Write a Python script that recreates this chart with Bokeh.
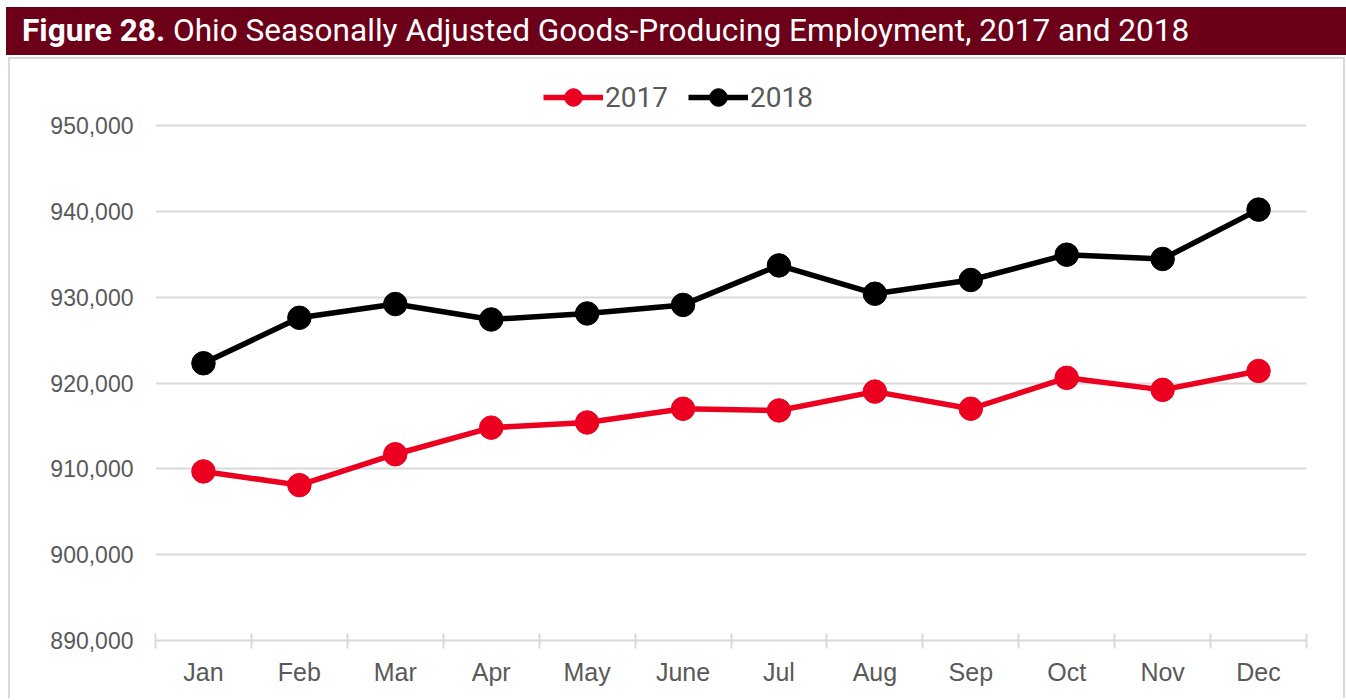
from bokeh.plotting import figure
from bokeh.layouts import column
from bokeh.models import (Range1d, FixedTicker, NumeralTickFormatter, Legend, LegendItem,
                          Div, ColumnDataSource)
from bokeh.embed import file_html
from bokeh.resources import INLINE

# ---- data ----
months = ["Jan", "Feb", "Mar", "Apr", "May", "June", "Jul", "Aug", "Sep", "Oct", "Nov", "Dec"]
emp_2017 = [909700, 908100, 911700, 914800, 915400, 917000, 916800, 919000, 917000, 920600, 919200, 921400]
emp_2018 = [922300, 927600, 929200, 927400, 928100, 929100, 933700, 930400, 932000, 934950, 934450, 940200]
y_ticks = [890000, 900000, 910000, 920000, 930000, 940000, 950000]
series_names = ["2017", "2018"]
series_colors = ["#ec0020", "#000000"]

title_bold = "Figure 28."
title_rest = "Ohio Seasonally Adjusted Goods-Producing Employment, 2017 and 2018"

BAR = "#6c0018"
GRID = "#d9d9d9"
TXT = "#595959"

# ---- header bar ----
head = Div(
    text=(f'<div style="background:{BAR};color:white;font-family:Roboto;font-size:31.6px;'
          f'width:1340px;height:48px;line-height:48px;padding-left:16px;box-sizing:border-box;'
          f'white-space:nowrap;overflow:hidden;">'
          f'<span style="font-weight:bold">{title_bold}</span> {title_rest}</div>'),
    width=1340, height=48, margin=(7, 0, 0, 6))

# ---- main chart ----
n = len(months)
xs = [i + 0.5 for i in range(n)]
bounds = list(range(n + 1))

W = 1337
H = 641
FRAME_TOP = 10        # frame extended upward so the legend can sit inside it
GRID_TOP_PX = 56      # distance (px) from frame top to the top gridline
PLOT_PX = 515         # px between lowest and highest gridline
y_lo, y_hi = y_ticks[0], y_ticks[-1]
y_top = y_hi + (y_hi - y_lo) * GRID_TOP_PX / PLOT_PX

p = figure(width=W, height=H, output_backend="svg", toolbar_location=None,
           x_range=Range1d(0, n), y_range=Range1d(y_lo, y_top),
           min_border_left=145, min_border_right=41, min_border_top=FRAME_TOP,
           min_border_bottom=H - FRAME_TOP - GRID_TOP_PX - PLOT_PX,
           background_fill_color="white", border_fill_color="white", outline_line_color=None,
           margin=(2, 0, 0, 8),
           styles={"border": f"2px solid {GRID}", "border-bottom": "none"})

p.xgrid.visible = False
p.ygrid.grid_line_color = GRID
p.ygrid.grid_line_width = 2

# x axis
xa = p.xaxis[0]
xa.ticker = FixedTicker(ticks=xs, minor_ticks=bounds)
xa.major_label_overrides = {x: m for x, m in zip(xs, months)}
xa.major_tick_in = 0
xa.major_tick_out = 0
xa.minor_tick_in = 7
xa.minor_tick_out = 8
xa.minor_tick_line_color = GRID
xa.minor_tick_line_width = 2
xa.axis_line_color = GRID
xa.axis_line_width = 2
xa.major_label_text_font = "Liberation Sans"
xa.major_label_text_font_size = "25px"
xa.major_label_text_color = TXT
xa.major_label_standoff = 9

# y axis
ya = p.yaxis[0]
ya.ticker = FixedTicker(ticks=y_ticks)
ya.formatter = NumeralTickFormatter(format="0,0")
ya.axis_line_color = None
ya.major_tick_line_color = None
ya.minor_tick_line_color = None
ya.major_label_text_font = "Liberation Sans"
ya.major_label_text_font_size = "23px"
ya.major_label_text_color = TXT
ya.major_label_standoff = 16

items = []
for name, vals, col in zip(series_names, [emp_2017, emp_2018], series_colors):
    src = ColumnDataSource(dict(x=xs, y=vals))
    lr = p.line("x", "y", source=src, line_color=col, line_width=5.5)
    sr = p.scatter("x", "y", source=src, size=23.5, fill_color=col, line_color=col)
    items.append(LegendItem(label=name, renderers=[lr, sr]))

legend = Legend(items=items, orientation="horizontal", location=(388, 521),
                glyph_width=60, glyph_height=44, label_standoff=2, spacing=20,
                padding=0, margin=0, border_line_color=None, background_fill_alpha=0,
                label_text_font="Roboto", label_text_font_size="28px", label_text_color=TXT)
p.add_layout(legend, "center")

layout = column(head, p, spacing=0)
open("out.html", "w").write(file_html(layout, INLINE))
